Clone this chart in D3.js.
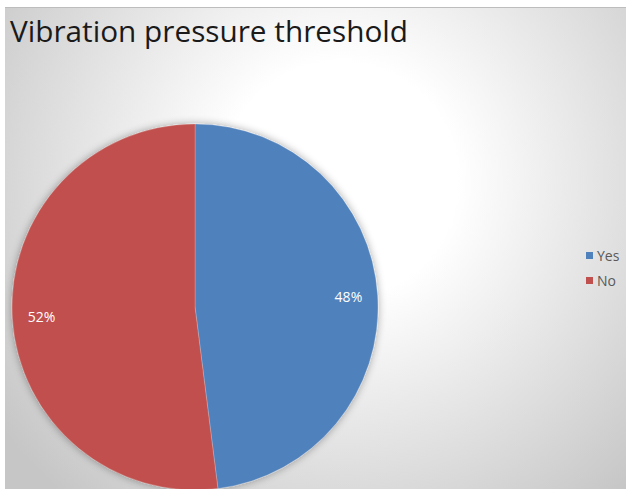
<!DOCTYPE html>
<html>
<head>
<meta charset="utf-8">
<script src="https://cdn.jsdelivr.net/npm/d3@7/dist/d3.min.js"></script>
<style>
  html, body { margin: 0; padding: 0; background: #ffffff; }
  svg { display: block; }
</style>
</head>
<body>
<svg id="chart" width="626" height="491"></svg>
<script>
// Survey answers for the vibration pressure threshold question
const categories = ["Yes", "No"];
const shares = [48, 52];
const labels = ["48%", "52%"];
const colors = ["#4f81bd", "#c0504d"];
const title = "Vibration pressure threshold";

const svg = d3.select("#chart");
const frame = { x: 5, y: 7, w: 621, h: 482 };

const defs = svg.append("defs");

// Soft radial backdrop: bright near the upper middle, grey towards the edges
const bg = defs.append("radialGradient")
  .attr("id", "bg")
  .attr("gradientUnits", "userSpaceOnUse")
  .attr("cx", 340).attr("cy", 180).attr("r", 420);
bg.append("stop").attr("offset", "0%").attr("stop-color", "#ffffff");
bg.append("stop").attr("offset", "28%").attr("stop-color", "#ffffff");
bg.append("stop").attr("offset", "100%").attr("stop-color", "#c6c6c6");

const shadow = defs.append("filter").attr("id", "shadow")
  .attr("x", "-20%").attr("y", "-20%").attr("width", "140%").attr("height", "140%");
shadow.append("feGaussianBlur").attr("in", "SourceAlpha").attr("stdDeviation", 4).attr("result", "b");
shadow.append("feComponentTransfer").attr("in", "b").attr("result", "s")
  .append("feFuncA").attr("type", "linear").attr("slope", 0.35);
const merge = shadow.append("feMerge");
merge.append("feMergeNode").attr("in", "s");
merge.append("feMergeNode").attr("in", "SourceGraphic");

defs.append("clipPath").attr("id", "frameClip")
  .append("rect").attr("x", frame.x).attr("y", frame.y).attr("width", frame.w).attr("height", frame.h);

const root = svg.append("g").attr("clip-path", "url(#frameClip)");

root.append("rect")
  .attr("x", frame.x).attr("y", frame.y)
  .attr("width", frame.w).attr("height", frame.h)
  .attr("fill", "url(#bg)");

root.append("line")
  .attr("x1", frame.x).attr("x2", frame.x + frame.w)
  .attr("y1", frame.y + 0.5).attr("y2", frame.y + 0.5)
  .attr("stroke", "#bdbdbd").attr("stroke-width", 1);

// Title
root.append("text")
  .attr("x", 10).attr("y", 42)
  .attr("font-family", "'Open Sans', 'Liberation Sans', sans-serif")
  .attr("font-size", 29)
  .attr("fill", "#1a1a1a")
  .attr("textLength", 398)
  .attr("lengthAdjust", "spacingAndGlyphs")
  .text(title);

// Pie
const cx = 195, cy = 307, radius = 183;
const data = categories.map((c, i) => ({ name: c, value: shares[i], label: labels[i], color: colors[i] }));

const pie = d3.pie().value(d => d.value).sort(null);
const arc = d3.arc().innerRadius(0).outerRadius(radius);
const labelArc = d3.arc().innerRadius(radius * 0.84).outerRadius(radius * 0.84);

const pg = root.append("g").attr("transform", `translate(${cx},${cy})`);
const arcs = pie(data);

pg.append("g").attr("filter", "url(#shadow)")
  .selectAll("path")
  .data(arcs)
  .join("path")
  .attr("d", arc)
  .attr("fill", d => d.data.color)
  .attr("stroke", "#ffffff")
  .attr("stroke-opacity", 0.35)
  .attr("stroke-width", 0.6);

pg.selectAll("text.pct")
  .data(arcs)
  .join("text")
  .attr("class", "pct")
  .attr("transform", d => `translate(${labelArc.centroid(d)})`)
  .attr("text-anchor", "middle")
  .attr("dy", "0.35em")
  .attr("font-family", "'Open Sans', 'Liberation Sans', sans-serif")
  .attr("font-size", 14)
  .attr("fill", "#ffffff")
  .text(d => d.data.label);

// Legend
const legend = root.append("g").attr("transform", "translate(586,256)");
const items = legend.selectAll("g")
  .data(data)
  .join("g")
  .attr("transform", (d, i) => `translate(0,${i * 25})`);
items.append("rect")
  .attr("x", 0).attr("y", -4)
  .attr("width", 7).attr("height", 7)
  .attr("fill", d => d.color);
items.append("text")
  .attr("x", 11).attr("y", 0)
  .attr("dy", "0.35em")
  .attr("font-family", "'Open Sans', 'Liberation Sans', sans-serif")
  .attr("font-size", 14)
  .attr("fill", "#595959")
  .text(d => d.name);
</script>
</body>
</html>
